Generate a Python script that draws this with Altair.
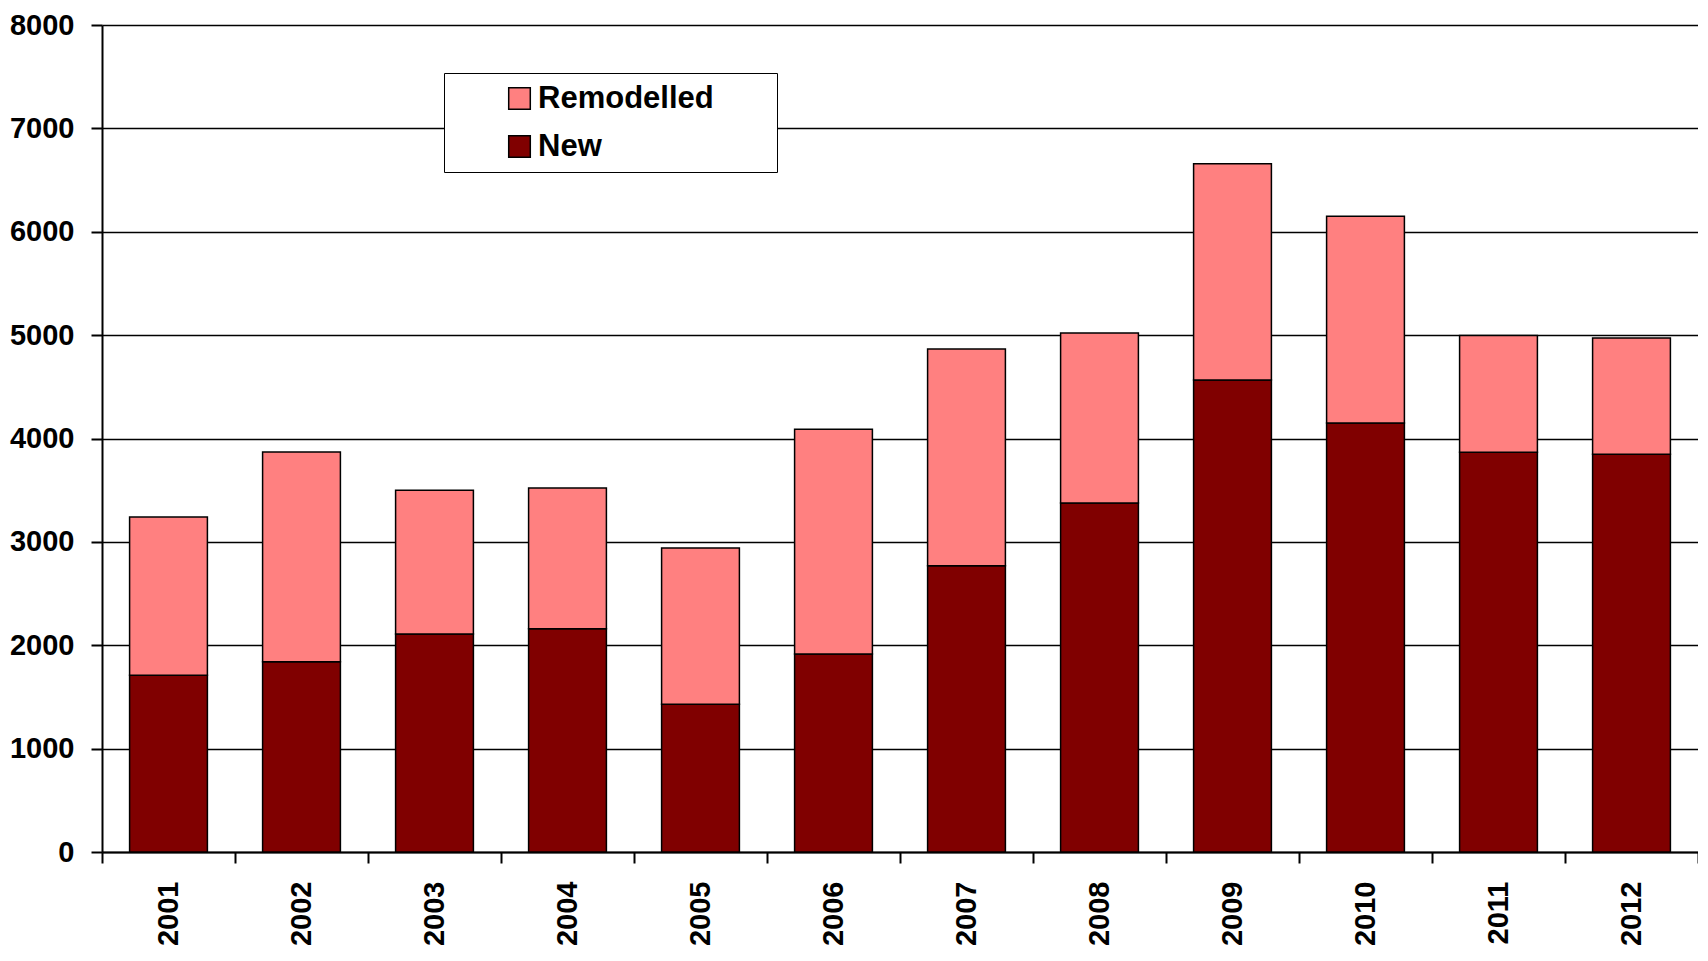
import altair as alt
import pandas as pd

years = ["2001", "2002", "2003", "2004", "2005", "2006",
         "2007", "2008", "2009", "2010", "2011", "2012"]
new_vals = [1710, 1840, 2110, 2160, 1430, 1915, 2770, 3375, 4567, 4149, 3867, 3848]
remodelled_vals = [1530, 2030, 1390, 1360, 1510, 2175, 2095, 1645, 2092, 2000, 1130, 1124]
series = ["Remodelled", "New"]
colors = ["#FF8080", "#800000"]
y_ticks = [0, 1000, 2000, 3000, 4000, 5000, 6000, 7000, 8000]

rows = []
for y, n, r in zip(years, new_vals, remodelled_vals):
    rows.append({"year": y, "type": "New", "value": n, "ord": 0})
    rows.append({"year": y, "type": "Remodelled", "value": r, "ord": 1})
df = pd.DataFrame(rows)

FONT = "Liberation Sans"

chart = alt.Chart(df).mark_bar(
    stroke="black", strokeWidth=1.5, width=alt.RelativeBandSize(0.585)
).encode(
    x=alt.X("year:N", sort=years,
            scale=alt.Scale(paddingInner=0, paddingOuter=0),
            axis=alt.Axis(title=None, labelAngle=270, tickBand="extent",
                          tickSize=11, labelPadding=18, grid=False,
                          labelFontSize=29)),
    y=alt.Y("value:Q", stack="zero",
            scale=alt.Scale(domain=[0, 8000], nice=False),
            axis=alt.Axis(title=None, values=y_ticks, format="d", tickSize=11,
                          labelPadding=17, grid=True, labelFontSize=29)),
    color=alt.Color("type:N",
                    scale=alt.Scale(domain=series, range=colors),
                    legend=alt.Legend(title=".", titleOrient="right",
                                      titleColor="white", titleFontSize=2,
                                      titlePadding=52,
                                      orient="none",
                                      legendX=342, legendY=48,
                                      symbolType="square", symbolSize=466,
                                      symbolStrokeColor="black",
                                      symbolStrokeWidth=1.5,
                                      labelFont=FONT, labelFontSize=31,
                                      labelFontWeight="bold", labelColor="black",
                                      labelOffset=3, labelLimit=500,
                                      rowPadding=16, padding=10,
                                      symbolOffset=50,
                                      strokeColor="black", fillColor="white")),
    order=alt.Order("ord:Q", sort="ascending"),
).properties(
    width=1596,
    height=827,
    autosize=alt.AutoSizeParams(type="none"),
    padding={"left": 94, "top": 17, "right": 0, "bottom": 96},
).configure_view(
    strokeWidth=0
).configure_axis(
    labelFont=FONT, labelFontWeight="bold", labelColor="black",
    domainColor="black", domainWidth=2,
    tickColor="black", tickWidth=2,
    gridColor="black", gridWidth=1.5, gridOpacity=1,
)

chart.save("out.html", embed_options={"renderer": "svg", "actions": False})
